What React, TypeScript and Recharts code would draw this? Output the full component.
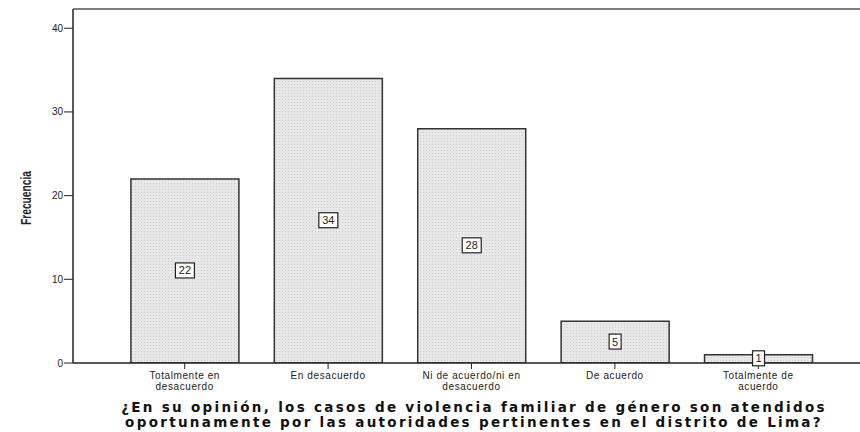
import { BarChart, Bar, XAxis, YAxis, LabelList, ReferenceLine, Label } from 'recharts';

const categories = [
  'Totalmente en\ndesacuerdo',
  'En desacuerdo',
  'Ni de acuerdo/ni en\ndesacuerdo',
  'De acuerdo',
  'Totalmente de\nacuerdo',
];
const frecuencia = [22, 34, 28, 5, 1];
const yTicks = [0, 10, 20, 30, 40];
const yMax = 42.3;
const titleLines = [
  '¿En su opinión, los casos de violencia familiar de género son atendidos',
  'oportunamente por las autoridades pertinentes en el distrito de Lima?',
];

const data = categories.map((name, i) => ({ name, value: frecuencia[i] }));

function CategoryTick(props: any) {
  const { x, y, payload } = props;
  const lines = String(payload.value).split('\n');
  return (
    <text
      x={x}
      y={y}
      textAnchor="middle"
      fontFamily="Liberation Sans, Arial, sans-serif"
      fontSize={10}
      letterSpacing={0.6}
      fill="#222"
    >
      {lines.map((l, i) => (
        <tspan key={i} x={x} dy={i === 0 ? 8 : 10.5}>
          {l}
        </tspan>
      ))}
    </text>
  );
}

function BoxLabel(props: any) {
  const { x, y, width, height, value } = props;
  const cx = x + width / 2;
  const cy = y + height / 2;
  const w = String(value).length > 1 ? 19 : 12;
  return (
    <g>
      <rect x={cx - w / 2} y={cy - 8} width={w} height={15} fill="#fff" stroke="#222" strokeWidth={1.2} />
      <text x={cx} y={cy + 3.5} textAnchor="middle" fontFamily="Liberation Sans, Arial, sans-serif" fontSize={11} fill="#222">
        {value}
      </text>
    </g>
  );
}

export default function App() {
  return (
    <div style={{ position: 'absolute', left: 0, top: 0, background: '#fff' }}>
      <BarChart
        width={860}
        height={432}
        data={data}
        margin={{ top: 9, right: 0, bottom: 0, left: 0 }}
        barCategoryGap="12.5%"
      >
        <defs>
          <pattern id="stipple" width="3" height="3" patternUnits="userSpaceOnUse">
            <rect width="3" height="3" fill="#e8e8e8" />
            <rect width="1" height="1" fill="#cdcdcd" />
          </pattern>
        </defs>
        <ReferenceLine y={yMax} stroke="#555" strokeWidth={1.5} />
        <XAxis
          dataKey="name"
          interval={0}
          height={69}
          padding={{ left: 40, right: 30 }}
          axisLine={{ stroke: '#222', strokeWidth: 1.5 }}
          tickLine={{ stroke: '#222' }}
          tickSize={6}
          tick={<CategoryTick />}
        >
          <Label
            content={(p: any) => {
              const vb = p.viewBox;
              const cx = 474;
              return (
                <text
                  textAnchor="middle"
                  fontFamily="DejaVu Sans, Verdana, sans-serif"
                  fontWeight="bold"
                  fontSize={13.5}
                  letterSpacing={2.3}
                  fill="#111"
                >
                  <tspan x={cx} y={vb.y + 49}>{titleLines[0]}</tspan>
                  <tspan x={cx} y={vb.y + 64}>{titleLines[1]}</tspan>
                </text>
              );
            }}
          />
        </XAxis>
        <YAxis
          width={73}
          domain={[0, yMax]}
          ticks={yTicks}
          allowDataOverflow
          axisLine={{ stroke: '#222', strokeWidth: 1.5 }}
          tickLine={{ stroke: '#222' }}
          tickSize={9}
          tickMargin={1}
          tick={{ fontFamily: 'Liberation Sans, Arial, sans-serif', fontSize: 10, fill: '#222' }}
        >
          <Label
            content={() => {
              const cx = 27;
              const cy = 198;
              return (
                <text
                  x={cx}
                  y={cy}
                  transform={`rotate(-90 ${cx} ${cy})`}
                  textAnchor="middle"
                  dominantBaseline="middle"
                  fontFamily="Liberation Sans, Arial, sans-serif"
                  fontWeight="bold"
                  fontSize={14}
                  textLength={54}
                  lengthAdjust="spacingAndGlyphs"
                  fill="#222"
                >
                  Frecuencia
                </text>
              );
            }}
          />
        </YAxis>
        <Bar dataKey="value" fill="url(#stipple)" stroke="#333" strokeWidth={1.5} isAnimationActive={false}>
          <LabelList dataKey="value" content={<BoxLabel />} />
        </Bar>
      </BarChart>
    </div>
  );
}
